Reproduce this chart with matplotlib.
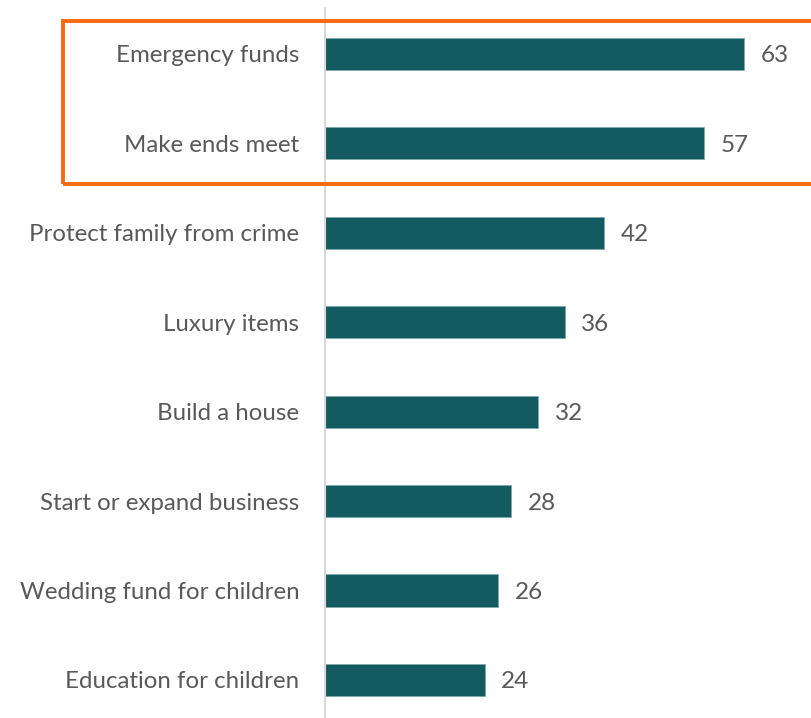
import matplotlib.pyplot as plt
from matplotlib.patches import Rectangle

# data
categories = ["Emergency funds", "Make ends meet", "Protect family from crime",
              "Luxury items", "Build a house", "Start or expand business",
              "Wedding fund for children", "Education for children"]
values = [63, 57, 42, 36, 32, 28, 26, 24]

bar_color = "#135B61"
text_color = "#595959"
plt.rcParams['font.family'] = ['Lato', 'DejaVu Sans']

W, H = 812, 718
fig = plt.figure(figsize=(W / 100, H / 100), dpi=100)
# axes placed in pixel terms: left edge at x=325, top at y=8, bottom at 718
ax = fig.add_axes([325 / W, 0, (W - 325) / W, (718 - 8) / H])

y = list(range(len(categories)))
ax.barh(y, values, height=0.36, color=bar_color, edgecolor="#7FA9AC", linewidth=0.6)
for yi, v in zip(y, values):
    ax.text(v + 2.5, yi, str(v), va="center_baseline", ha="left", fontsize=17.5,
            color=text_color)

ax.set_xlim(0, 73.2)
ax.set_ylim(7.425, -0.514)
ax.set_yticks(y)
ax.set_yticklabels(categories, fontsize=17.3, color=text_color, va="center_baseline")
ax.tick_params(axis="y", length=0, pad=18.5)
ax.set_xticks([])
for s in ["top", "right", "bottom"]:
    ax.spines[s].set_visible(False)
ax.spines["left"].set_color("#D9D9D9")
ax.spines["left"].set_linewidth(1.5)

# orange highlight box around the top two rows
box = Rectangle((63 / W, 1 - 184 / H), (W + 20 - 63) / W, (184 - 21) / H,
                transform=fig.transFigure, fill=False, edgecolor="#F96A0E",
                linewidth=2.8, clip_on=False)
fig.patches.append(box)

fig.savefig("out.png", dpi=100)
